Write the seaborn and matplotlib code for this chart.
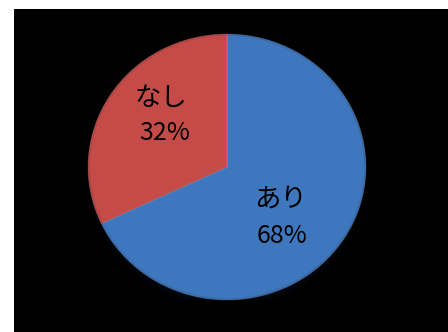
import matplotlib
matplotlib.use("Agg")
import matplotlib.pyplot as plt
import matplotlib.patches as mpatches
import seaborn as sns

labels = ["あり", "なし"]
values = [68, 32]
colors = ["#3E77BD", "#C54B48"]

sns.set_theme(style="white")
plt.rcParams["font.family"] = ["Noto Sans CJK JP", "DejaVu Sans"]

W, H = 448, 332
fig = plt.figure(figsize=(W / 100, H / 100), dpi=100)
fig.patch.set_facecolor("white")

# black panel behind the chart
bg = fig.add_axes([14 / W, 0, 1 - 14 / W, (H - 9) / H])
bg.set_facecolor("black")
bg.set_xticks([])
bg.set_yticks([])
for s in bg.spines.values():
    s.set_visible(False)

# pie area (slightly taller than wide)
cx, cy, rx, ry = 227, 167, 139, 133
ax = fig.add_axes([(cx - rx) / W, (H - cy - ry) / H, 2 * rx / W, 2 * ry / H])
ax.set_facecolor("none")
ax.axis("off")

# soft shadow under the pie
for i, a in enumerate([0.10, 0.16, 0.24]):
    sh = mpatches.Ellipse((0, -0.03 - 0.012 * (2 - i)), 2.0 - 0.02 * i, 2.0 - 0.02 * i,
                          facecolor="#0d2240", edgecolor="none", alpha=a, zorder=0)
    ax.add_patch(sh)

wedges, _ = ax.pie(values, colors=colors, startangle=90, counterclock=False,
                   radius=1.0,
                   wedgeprops=dict(edgecolor=(1, 1, 1, 0.15), linewidth=0.7))
for w in wedges:
    w.set_zorder(2)
ax.set_aspect("auto")
ax.set_xlim(-1, 1)
ax.set_ylim(-1, 1)

# faint soft rim
for lw, a in [(3.0, 0.06), (1.5, 0.08)]:
    ax.add_patch(mpatches.Ellipse((0, 0), 2.0, 2.0, facecolor="none",
                                  edgecolor=(0, 0, 0, a), linewidth=lw, zorder=3))

# category name and percentage, each on its own line
name_pos = {"あり": (0.388, -0.30), "なし": (-0.478, 0.46)}
pct_pos = {"あり": (0.396, -0.571), "なし": (-0.446, 0.203)}
for lab, val in zip(labels, values):
    x, y = name_pos[lab]
    ax.text(x, y, lab, ha="center", va="baseline", fontsize=19,
            color="black", zorder=5)
    x, y = pct_pos[lab]
    ax.text(x, y, f"{val}%", ha="center", va="baseline", fontsize=18,
            color="black", zorder=5)

fig.savefig("out.png", dpi=100, facecolor=fig.get_facecolor())
